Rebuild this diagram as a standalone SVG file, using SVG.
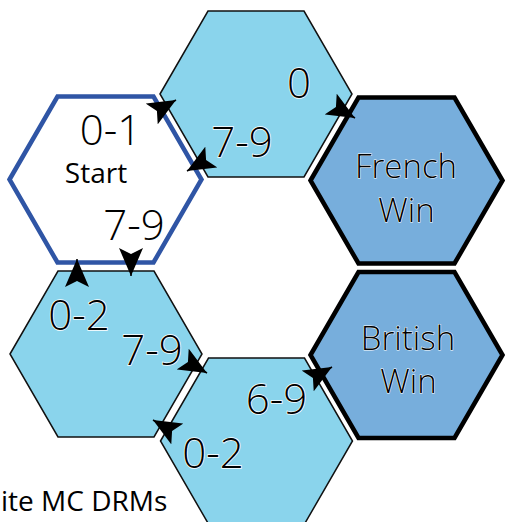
<svg xmlns="http://www.w3.org/2000/svg" xmlns:xlink="http://www.w3.org/1999/xlink" width="505" height="522" viewBox="0 0 505 522">
  <style>
    .cell { fill: #8ad4ec; stroke: #111; stroke-width: 1.5; stroke-linejoin: miter; }
    .start { fill: #ffffff; stroke: #2f55a5; stroke-width: 4.5; stroke-linejoin: miter; }
    .win { fill: #77aedc; stroke: #000; stroke-width: 4.5; stroke-linejoin: miter; }
    text { font-family: "Open Sans", "Liberation Sans", sans-serif; fill: #000; text-anchor: middle; }
    .roll { font-size: 42px; font-weight: 300; stroke: #fff; stroke-width: 1.5; paint-order: stroke; }
    .name { font-size: 33px; font-weight: 300; stroke: #fff; stroke-width: 1; paint-order: stroke; }
    .small { font-size: 28px; }
    .caption { font-size: 28px; text-anchor: start; }
    .link { fill: none; stroke: #000; stroke-width: 1.5; marker-end: url(#head); }
  </style>
  <defs>
    <path id="hex" d="M-96,0 L-48,-83 L48,-83 L96,0 L48,83 L-48,83 Z"/>
    <marker id="head" viewBox="0 0 28 24" refX="28" refY="12" markerWidth="28" markerHeight="24" markerUnits="userSpaceOnUse" orient="auto">
      <path d="M28,12 L0,0 L6,12 L0,24 Z" fill="#000"/>
    </marker>
  </defs>

  <rect width="505" height="522" fill="#fff"/>

  <!-- board cells -->
  <g id="cell-top">
    <use xlink:href="#hex" class="cell" transform="translate(256,94)"/>
    <text class="roll" x="299" y="98">0</text>
    <text class="roll" x="242" y="157">7-9</text>
  </g>

  <g id="cell-start">
    <use xlink:href="#hex" class="start" transform="translate(105.5,179.5)"/>
    <text class="roll" x="110.5" y="145">0-1</text>
    <text class="small" x="96" y="183">Start</text>
    <text class="roll" x="134" y="240">7-9</text>
  </g>

  <g id="french-win">
    <use xlink:href="#hex" class="win" transform="translate(406.5,180.5)"/>
    <text class="name" x="406" y="178">French</text>
    <text class="name" x="406.5" y="222">Win</text>
  </g>

  <g id="cell-lower-left">
    <use xlink:href="#hex" class="cell" transform="translate(106,354)"/>
    <text class="roll" x="79" y="330">0-2</text>
    <text class="roll" x="152" y="365">7-9</text>
  </g>

  <g id="cell-bottom">
    <use xlink:href="#hex" class="cell" transform="translate(256.5,441)"/>
    <text class="roll" x="276.5" y="414">6-9</text>
    <text class="roll" x="213" y="468">0-2</text>
  </g>

  <g id="british-win">
    <use xlink:href="#hex" class="win" transform="translate(406.5,355)"/>
    <text class="name" x="408" y="350">British</text>
    <text class="name" x="408.5" y="393">Win</text>
  </g>

  <!-- moves between cells -->
  <g id="connectors">
    <path class="link" d="M162.1,108 L176,100"/>
    <path class="link" d="M200.9,163 L187,171"/>
    <path class="link" d="M341.1,110 L355,118"/>
    <path class="link" d="M131,260 L131,276"/>
    <path class="link" d="M77,275 L77,259"/>
    <path class="link" d="M193.1,365 L207,373"/>
    <path class="link" d="M166.9,428 L153,420"/>
    <path class="link" d="M318.1,375 L332,367"/>
  </g>

  <text class="caption" x="1" y="511">ite MC DRMs</text>
</svg>
